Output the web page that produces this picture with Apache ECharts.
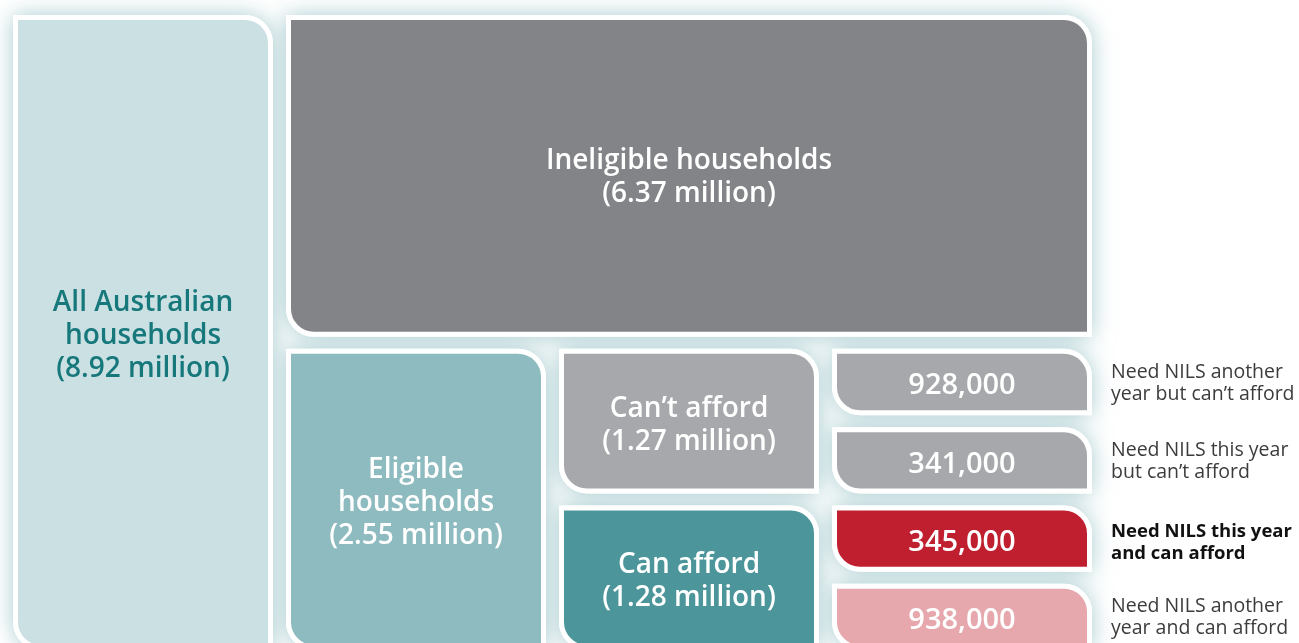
<!DOCTYPE html>
<html>
<head>
<meta charset="utf-8">
<script src="https://cdn.jsdelivr.net/npm/echarts@6/dist/echarts.min.js"></script>
<style>
html,body{margin:0;padding:0;background:#ffffff;}
#chart{width:1299px;height:643px;}
</style>
</head>
<body>
<div id="chart"></div>
<script>
// ---- data ----
const nodeLabels  = ['All Australian\nhouseholds', 'Ineligible households', 'Eligible\nhouseholds', 'Can\u2019t afford', 'Can afford', '', '', '', ''];
const nodeValues  = [8920000, 6370000, 2550000, 1270000, 1280000, 928000, 341000, 345000, 938000];
const nodeParents = [-1, 0, 0, 2, 2, 3, 3, 4, 4];
const leafNotes   = ['', '', '', '', '', 'Need NILS another\nyear but can\u2019t afford', 'Need NILS this year\nbut can\u2019t afford', 'Need NILS this year\nand can afford', 'Need NILS another\nyear and can afford'];
const highlightedNote = 7;

// ---- styles ----
const fillColors = ['#cbe0e3', '#838488', '#8dbbbf', '#a7a8ab', '#4c969b', '#a7a8ab', '#a7a8ab', '#c01f2f', '#e6a7ad'];
const textColors = ['#17787c', '#ffffff', '#ffffff', '#ffffff', '#ffffff', '#ffffff', '#ffffff', '#ffffff', '#ffffff'];
const TOP_SPLIT = 0.516;   // share of height for the first branch under the root
const H_GAP = 13, V_GAP = 10, BORDER = 5, RADIUS = 28;
const FONT = '"Open Sans", "Noto Sans", sans-serif';

// ---- layout from hierarchy (depth = column, bands split among children) ----
const children = nodeValues.map(() => []);
nodeParents.forEach((p, i) => { if (p >= 0) children[p].push(i); });
const depth = [], band = [];
let maxDepth = 0;
(function walk(i, d, a, b) {
  depth[i] = d; band[i] = [a, b]; maxDepth = Math.max(maxDepth, d);
  const ch = children[i];
  ch.forEach((c, k) => {
    let ca, cb;
    if (d === 0) {
      ca = k === 0 ? a : a + (b - a) * TOP_SPLIT;
      cb = k === 0 ? a + (b - a) * TOP_SPLIT : b;
    } else {
      ca = a + (b - a) * k / ch.length;
      cb = a + (b - a) * (k + 1) / ch.length;
    }
    walk(c, d + 1, ca, cb);
  });
})(0, 0, 0, 1);

const layoutData = nodeValues.map((v, i) => [
  depth[i],
  children[i].length ? depth[i] + 1 : maxDepth + 1,
  band[i][0], band[i][1], i
]);

function labelFor(i) {
  const v = nodeValues[i];
  if (depth[i] < maxDepth) return nodeLabels[i] + '\n(' + (v / 1e6).toFixed(2) + ' million)';
  return v.toLocaleString('en-US');
}

function boxRect(params, api) {
  const p0 = api.coord([api.value(0), api.value(2)]);
  const p1 = api.coord([api.value(1), api.value(3)]);
  const x0 = p0[0], y0 = p0[1] + 2;
  const x1 = p1[0] - H_GAP, y1 = p1[1] - V_GAP;
  return {x0, y0, x1, y1};
}

const chart = echarts.init(document.getElementById('chart'), null, {renderer: 'canvas'});
chart.setOption({
  animation: false,
  backgroundColor: '#ffffff',
  grid: {left: 13, top: 13, width: 4 * 273, height: 647, outerBoundsMode: 'none', containLabel: false},
  xAxis: {type: 'value', min: 0, max: maxDepth + 1, show: false},
  yAxis: {type: 'value', min: 0, max: 1, inverse: true, show: false},
  series: [
    {
      type: 'custom',
      silent: true,
      clip: false,
      z: 1,
      encode: {x: [0, 1], y: [2, 3]},
      data: layoutData,
      renderItem: function (params, api) {
        const r = boxRect(params, api);
        return {
          type: 'rect',
          shape: {x: r.x0, y: r.y0, width: r.x1 - r.x0, height: r.y1 - r.y0, r: [0, RADIUS, 0, RADIUS]},
          style: {fill: '#ffffff', shadowBlur: 22, shadowColor: 'rgba(95,160,168,0.55)'}
        };
      }
    },
    {
      type: 'custom',
      silent: true,
      clip: false,
      z: 2,
      encode: {x: [0, 1], y: [2, 3]},
      data: layoutData,
      renderItem: function (params, api) {
        const i = api.value(4);
        const r = boxRect(params, api);
        const h = BORDER / 2;
        const cx = (r.x0 + r.x1) / 2, cy = (r.y0 + r.y1) / 2;
        const isLeaf = depth[i] === maxDepth;
        const kids = [{
          type: 'rect',
          shape: {x: r.x0 + h, y: r.y0 + h, width: r.x1 - r.x0 - BORDER, height: r.y1 - r.y0 - BORDER, r: [0, RADIUS - h, 0, RADIUS - h]},
          style: {fill: fillColors[i], stroke: '#ffffff', lineWidth: BORDER}
        }, {
          type: 'text',
          x: cx, y: cy + (depth[i] === 1 && i === children[0][0] ? 2 : 4),
          style: {
            text: labelFor(i), fill: textColors[i],
            fontFamily: FONT, fontSize: isLeaf ? 29 : 28, fontWeight: 600, lineHeight: 33,
            align: 'center', verticalAlign: 'middle'
          }
        }];
        if (leafNotes[i]) {
          const bold = i === highlightedNote;
          kids.push({
            type: 'text',
            x: r.x1 + 19, y: cy + (bold ? 4 : 1),
            style: {
              text: leafNotes[i], fill: bold ? '#111111' : '#3c3c3c',
              fontFamily: FONT, fontSize: bold ? 18.5 : 19.5, fontWeight: bold ? 'bold' : 'normal', lineHeight: 22,
              align: 'left', verticalAlign: 'middle'
            }
          });
        }
        return {type: 'group', children: kids};
      }
    }
  ]
});
</script>
</body>
</html>
